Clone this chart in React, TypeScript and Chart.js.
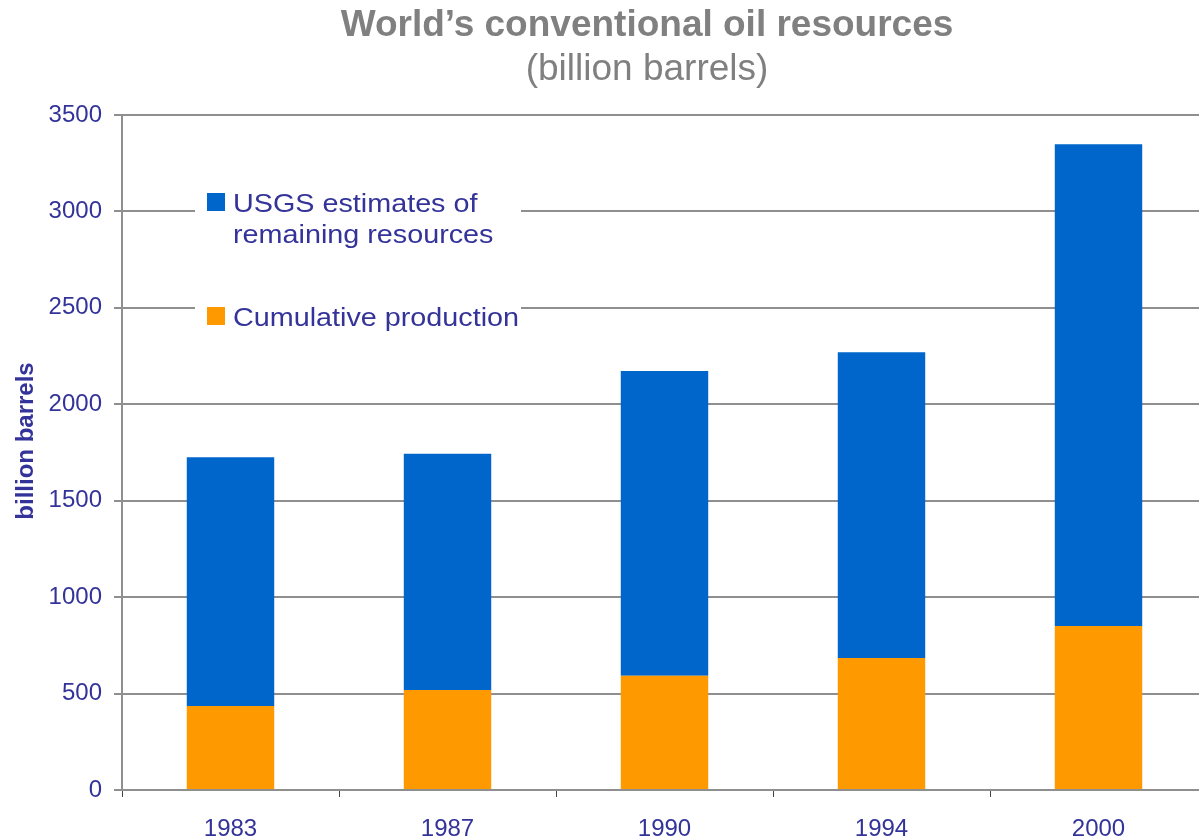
import React, { useEffect, useRef } from "react";
import { Chart, registerables } from "chart.js";

Chart.register(...registerables);

const years = ["1983", "1987", "1990", "1994", "2000"];
const cumulativeProduction = [436, 518, 592, 684, 850];
const remainingResources = [1289, 1225, 1581, 1586, 2498];
const yTicks = [0, 500, 1000, 1500, 2000, 2500, 3000, 3500];

const titleText = "World\u2019s conventional oil resources";
const subtitleText = "(billion barrels)";
const yTitleText = "billion barrels";
const legendRemaining = ["USGS estimates of", "remaining resources"];
const legendProduction = "Cumulative production";

const FONT = "'Liberation Sans', Arial, sans-serif";
const TEXT_BLUE = "#333399";
const GRID = "#8f8f8f";
const BLUE = "#0066CC";
const ORANGE = "#FF9900";

const overlayPlugin = {
  id: "overlay",
  afterDraw(chart: any) {
    const ctx = chart.ctx;
    ctx.save();
    // Title
    ctx.fillStyle = "#808080";
    ctx.textAlign = "center";
    ctx.textBaseline = "alphabetic";
    ctx.font = `bold 37px ${FONT}`;
    ctx.fillText(titleText, 647, 36);
    ctx.font = `37px ${FONT}`;
    ctx.fillText(subtitleText, 647, 80);

    // Y axis title
    ctx.save();
    ctx.translate(33, 441);
    ctx.rotate(-Math.PI / 2);
    ctx.fillStyle = TEXT_BLUE;
    ctx.font = `bold 24px ${FONT}`;
    ctx.textAlign = "center";
    ctx.fillText(yTitleText, 0, 0);
    ctx.restore();

    // Legend
    ctx.fillStyle = "#ffffff";
    ctx.fillRect(195, 180, 326, 155);
    ctx.fillStyle = BLUE;
    ctx.fillRect(207, 193, 18, 18);
    ctx.fillStyle = ORANGE;
    ctx.fillRect(207, 307, 18, 18);

    ctx.fillStyle = TEXT_BLUE;
    ctx.font = `25px ${FONT}`;
    ctx.textAlign = "left";
    const drawStretched = (t: string, x: number, y: number) => {
      ctx.save();
      ctx.translate(x, y);
      ctx.scale(1.15, 1);
      ctx.fillText(t, 0, 0);
      ctx.restore();
    };
    drawStretched(legendRemaining[0], 233, 212);
    drawStretched(legendRemaining[1], 233, 243);
    drawStretched(legendProduction, 233, 326);
    ctx.restore();
  },
};

export default function App() {
  const ref = useRef<HTMLCanvasElement | null>(null);

  useEffect(() => {
    document.body.style.margin = "0";
    const canvas = ref.current;
    if (!canvas) return;
    const chart = new Chart(canvas, {
      type: "bar",
      data: {
        labels: years,
        datasets: [
          {
            label: "Cumulative production",
            data: cumulativeProduction,
            backgroundColor: ORANGE,
            borderWidth: 0,
            barPercentage: 0.403,
            categoryPercentage: 1,
          },
          {
            label: "USGS estimates of remaining resources",
            data: remainingResources,
            backgroundColor: BLUE,
            borderWidth: 0,
            barPercentage: 0.403,
            categoryPercentage: 1,
          },
        ],
      },
      options: {
        responsive: false,
        animation: false,
        devicePixelRatio: 1,
        layout: { padding: { top: 115, right: 1, left: 0, bottom: 0 } },
        plugins: {
          legend: { display: false },
          title: { display: false },
          tooltip: { enabled: false },
        },
        scales: {
          x: {
            stacked: true,
            offset: true,
            afterFit: (scale: any) => {
              scale.height = 49;
            },
            grid: {
              offset: true,
              drawOnChartArea: false,
              drawTicks: true,
              tickLength: 7,
              color: "#444444",
              lineWidth: 1,
            },
            border: { color: GRID, width: 2 },
            ticks: {
              color: TEXT_BLUE,
              font: { family: FONT, size: 24 },
              padding: 18,
              maxRotation: 0,
            },
          },
          y: {
            stacked: true,
            min: 0,
            max: 3500,
            afterFit: (scale: any) => {
              scale.width = 122;
            },
            afterBuildTicks: (scale: any) => {
              scale.ticks = yTicks.map((v) => ({ value: v }));
            },
            grid: {
              color: GRID,
              lineWidth: 2,
              tickLength: 8,
            },
            border: { color: GRID, width: 2 },
            ticks: {
              color: TEXT_BLUE,
              font: { family: FONT, size: 24 },
              padding: 12,
              callback: (v: any) => String(v),
            },
          },
        },
      },
      plugins: [overlayPlugin],
    });
    return () => chart.destroy();
  }, []);

  return (
    <div
      style={{
        position: "absolute",
        left: 0,
        top: 0,
        width: 1199,
        height: 839,
        overflow: "hidden",
        background: "#ffffff",
      }}
    >
      <canvas ref={ref} width={1208} height={839} style={{ display: "block" }} />
    </div>
  );
}
